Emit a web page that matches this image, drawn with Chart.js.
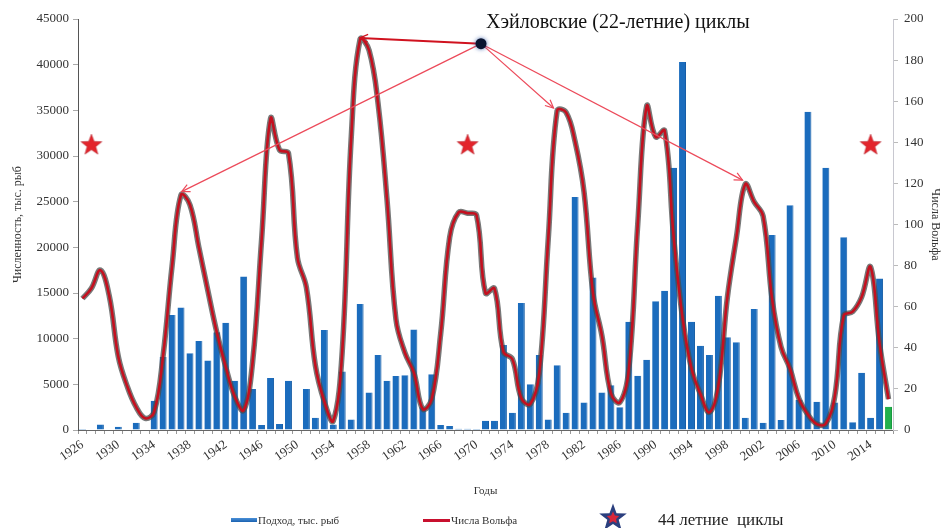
<!DOCTYPE html>
<html><head><meta charset="utf-8">
<script src="https://cdn.jsdelivr.net/npm/chart.js@4.4.0/dist/chart.umd.min.js"></script>
<style>
html,body{margin:0;padding:0;background:#fff;}
#wrap{position:relative;width:946px;height:528px;overflow:hidden;font-family:'Liberation Serif','Times New Roman',serif;}
#c{position:absolute;left:0;top:0;}
.lg{position:absolute;white-space:nowrap;color:#333;line-height:1;}
.sw{position:absolute;}
</style></head><body>
<div id="wrap">
<canvas id="c" width="946" height="528"></canvas>
<div class="sw" style="left:231px;top:518px;width:26px;height:4px;background:linear-gradient(#4a90d8,#1a62b0);"></div>
<div class="lg" style="left:258px;top:515px;font-size:11px;">Подход, тыс. рыб</div>
<div class="sw" style="left:423px;top:519px;width:27px;height:3px;background:#c8102e;"></div>
<div class="lg" style="left:451px;top:515px;font-size:11px;">Числа Вольфа</div>
<svg class="sw" id="lstar" style="left:597px;top:503px;" width="32" height="28"></svg>
<div class="lg" style="left:658px;top:511px;font-size:17px;color:#222;">44 летние&nbsp; циклы</div>
</div>
<script>
// ---- data ----
const years = [];
for (let y = 1926; y <= 2016; y++) years.push(y);

// Подход, тыс. рыб (left axis)
const fish = [
  100, 0, 600, 0, 350, 0, 800, 0, 3200, 8000,
  12600, 13400, 8400, 9750, 7600, 10700, 11750, 5400, 16800, 4500,
  550, 5700, 650, 5400, 0, 4500, 1350, 10950, 600, 6400,
  1150, 13800, 4100, 8200, 5400, 5900, 6000, 11000, 2500, 6100,
  550, 450, 150, 150, 100, 1000, 1000, 9300, 1900, 13900,
  5000, 8200, 1150, 7100, 1900, 25500, 3000, 16700, 4100, 4900,
  2500, 11850, 5950, 7700, 14100, 15250, 28700, 40300, 11850, 9230,
  8200, 14700, 10150, 9600, 1350, 13250, 800, 21350, 1100, 24600,
  3300, 34850, 3100, 28700, 3000, 21100, 840, 6270, 1350, 16600,
  2550
];

// Числа Вольфа (right axis)
const wolf = [
  64.0, 69.0, 77.8, 65.0, 35.7, 21.2, 11.1, 5.7, 8.7, 36.1,
  79.7, 114.4, 109.6, 88.8, 67.8, 47.5, 30.6, 16.3, 9.6, 33.2,
  92.6, 151.6, 136.3, 134.7, 83.9, 69.4, 31.5, 13.9, 4.4, 38.0,
  141.7, 190.2, 184.8, 159.0, 112.3, 53.9, 37.6, 27.9, 10.2, 15.1,
  47.0, 93.8, 105.9, 105.5, 104.5, 66.6, 68.9, 38.0, 34.5, 15.5,
  12.6, 27.5, 92.5, 155.4, 154.6, 140.4, 115.9, 66.6, 45.9, 17.9,
  13.4, 29.4, 100.2, 157.6, 142.6, 145.7, 94.3, 54.6, 29.9, 17.5,
  8.6, 21.5, 64.3, 93.3, 119.6, 111.0, 104.0, 63.7, 40.4, 29.8,
  15.2, 7.5, 2.9, 3.1, 16.5, 55.7, 57.6, 64.7, 79.3, 42.0,
  15.0
];

// 44-летние циклы (stars), level on left axis
const starYears = [1927, 1969, 2014];
const starLevel = 31300;

// Хэйловские циклы: hub and arrow targets (year, Wolf number)
const hub = { year: 1970.5, wolf: 188 };
const haleTargets = [
  { year: 1937.07, wolf: 116 },
  { year: 1956.97, wolf: 190.8 },
  { year: 1978.6, wolf: 156.7 },
  { year: 1999.7, wolf: 121.6 }
];

const leftTicks = { min: 0, max: 45000, step: 5000 };
const rightTicks = { min: 0, max: 200, step: 20 };

// ---- helpers ----
function starPoints(cx, cy, ro, ri) {
  const pts = [];
  for (let k = 0; k < 10; k++) {
    const r = k % 2 === 0 ? ro : ri;
    const a = -Math.PI / 2 + k * Math.PI / 5;
    pts.push([cx + r * Math.cos(a), cy + r * Math.sin(a)]);
  }
  return pts;
}
function makeStarCanvas() {
  const cv = document.createElement('canvas');
  cv.width = 24; cv.height = 22;
  const g = cv.getContext('2d');
  const p = starPoints(12, 12, 11, 4.6);
  g.beginPath();
  p.forEach((q, i) => i ? g.lineTo(q[0], q[1]) : g.moveTo(q[0], q[1]));
  g.closePath();
  g.fillStyle = '#e3242b';
  g.fill();
  g.strokeStyle = 'rgba(170,20,30,0.6)';
  g.lineWidth = 0.8;
  g.stroke();
  return cv;
}
(function legendStar() {
  const svg = document.getElementById('lstar');
  const o = starPoints(16, 15, 14.5, 6).map(q => q.join(',')).join(' ');
  const i = starPoints(16, 15, 6.5, 3.2).map(q => q.join(',')).join(' ');
  svg.innerHTML = '<polygon points="' + o + '" fill="#2b3f7e"/><polygon points="' + i + '" fill="#d8263a"/>';
})();

Chart.defaults.font.family = "'Liberation Serif','Times New Roman',serif";
Chart.defaults.color = '#333';

const starImg = makeStarCanvas();

const annot = {
  id: 'annot',
  afterDatasetsDraw(chart) {
    const ctx = chart.ctx;
    const xs = chart.scales.x, ys = chart.scales.y1;
    const hx = xs.getPixelForValue(hub.year - years[0]);
    const hy = ys.getPixelForValue(hub.wolf);
    ctx.save();
    haleTargets.forEach((t, idx) => {
      const tx = xs.getPixelForValue(t.year - years[0]);
      const ty = ys.getPixelForValue(t.wolf);
      const thick = idx === 1;
      ctx.strokeStyle = thick ? '#d0121f' : '#ec4a5a';
      ctx.lineWidth = thick ? 2 : 1.2;
      ctx.beginPath();
      ctx.moveTo(hx, hy);
      ctx.lineTo(tx, ty);
      ctx.stroke();
      const ang = Math.atan2(ty - hy, tx - hx);
      const L = 9, w = 0.45;
      ctx.lineWidth = 1.2;
      ctx.beginPath();
      ctx.moveTo(tx - L * Math.cos(ang - w), ty - L * Math.sin(ang - w));
      ctx.lineTo(tx, ty);
      ctx.lineTo(tx - L * Math.cos(ang + w), ty - L * Math.sin(ang + w));
      ctx.stroke();
    });
    ctx.shadowColor = 'rgba(40,80,160,0.8)';
    ctx.shadowBlur = 4;
    ctx.fillStyle = '#0a1430';
    ctx.beginPath();
    ctx.arc(hx, hy, 5.5, 0, Math.PI * 2);
    ctx.fill();
    ctx.shadowBlur = 0;
    ctx.fillStyle = '#111';
    ctx.font = "20px 'Liberation Serif','Times New Roman',serif";
    ctx.textAlign = 'left';
    ctx.textBaseline = 'middle';
    ctx.fillText('Хэйловские (22-летние) циклы', hx + 5, chart.chartArea.top + 4);
    ctx.restore();
  }
};

new Chart(document.getElementById('c'), {
  data: {
    labels: years,
    datasets: [
      {
        type: 'line', label: '44 летние циклы', yAxisID: 'y',
        data: years.map(y => starYears.includes(y) ? starLevel : null),
        showLine: false, pointStyle: starImg, pointRadius: 10, pointHoverRadius: 10, order: 0
      },
      {
        type: 'line', label: 'Числа Вольфа', yAxisID: 'y1', data: wolf,
        borderColor: '#c4101f', borderWidth: 2.6, tension: 0.4, pointRadius: 0, fill: false, order: 1
      },
      {
        type: 'line', label: 'shadow', yAxisID: 'y1', data: wolf,
        borderColor: 'rgba(75,75,75,0.75)', borderWidth: 5.5, tension: 0.4, pointRadius: 0, fill: false, order: 2
      },
      {
        type: 'bar', label: 'Подход, тыс. рыб', yAxisID: 'y', data: fish,
        backgroundColor: years.map(y => y === 2016 ? '#22b04c' : '#1b6cbd'),
        borderColor: years.map(y => y === 2016 ? '#1a9a40' : '#175ea6'),
        borderWidth: { left: 0, right: 1, top: 0, bottom: 0 },
        barPercentage: 0.78, categoryPercentage: 1.0, order: 3
      }
    ]
  },
  options: {
    responsive: false, animation: false,
    layout: { padding: { left: 0, right: 0, top: 19, bottom: 28 } },
    plugins: { legend: { display: false }, tooltip: { enabled: false } },
    scales: {
      x: {
        type: 'category', offset: true,
        grid: { display: true, drawOnChartArea: false, drawTicks: true, tickLength: 4, color: '#999', offset: true },
        border: { display: true, color: '#666' },
        ticks: {
          autoSkip: false, minRotation: 35, maxRotation: 35, padding: 3,
          font: { size: 13 }, color: '#333',
          callback: (v, i) => ((years[i] - years[0]) % 4 === 0 ? String(years[i]) : '')
        },
        title: { display: true, text: 'Годы', font: { size: 11 }, color: '#333', padding: { top: 0, bottom: 2 } },
        afterFit: s => { s.height = 70; }
      },
      y: {
        position: 'left', min: leftTicks.min, max: leftTicks.max,
        ticks: { stepSize: leftTicks.step, font: { size: 13 }, color: '#333', padding: 4, callback: v => String(v) },
        grid: { drawOnChartArea: false, tickLength: 5, color: '#aaa' },
        border: { display: true, color: '#555' },
        title: { display: true, text: 'Численность, тыс. рыб', font: { size: 12 }, color: '#333', padding: { top: 11, bottom: 0 } },
        afterFit: s => { s.width = 78; }
      },
      y1: {
        position: 'right', min: rightTicks.min, max: rightTicks.max,
        ticks: { stepSize: rightTicks.step, font: { size: 13 }, color: '#333', padding: 6, callback: v => String(v) },
        grid: { drawOnChartArea: false, tickLength: 5, color: '#bbb' },
        border: { display: true, color: '#c8c8d0' },
        title: { display: true, text: 'Числа Вольфа', font: { size: 12 }, color: '#333', padding: { top: 4, bottom: 0 } },
        afterFit: s => { s.width = 53; }
      }
    }
  },
  plugins: [annot]
});
</script>
</body></html>
